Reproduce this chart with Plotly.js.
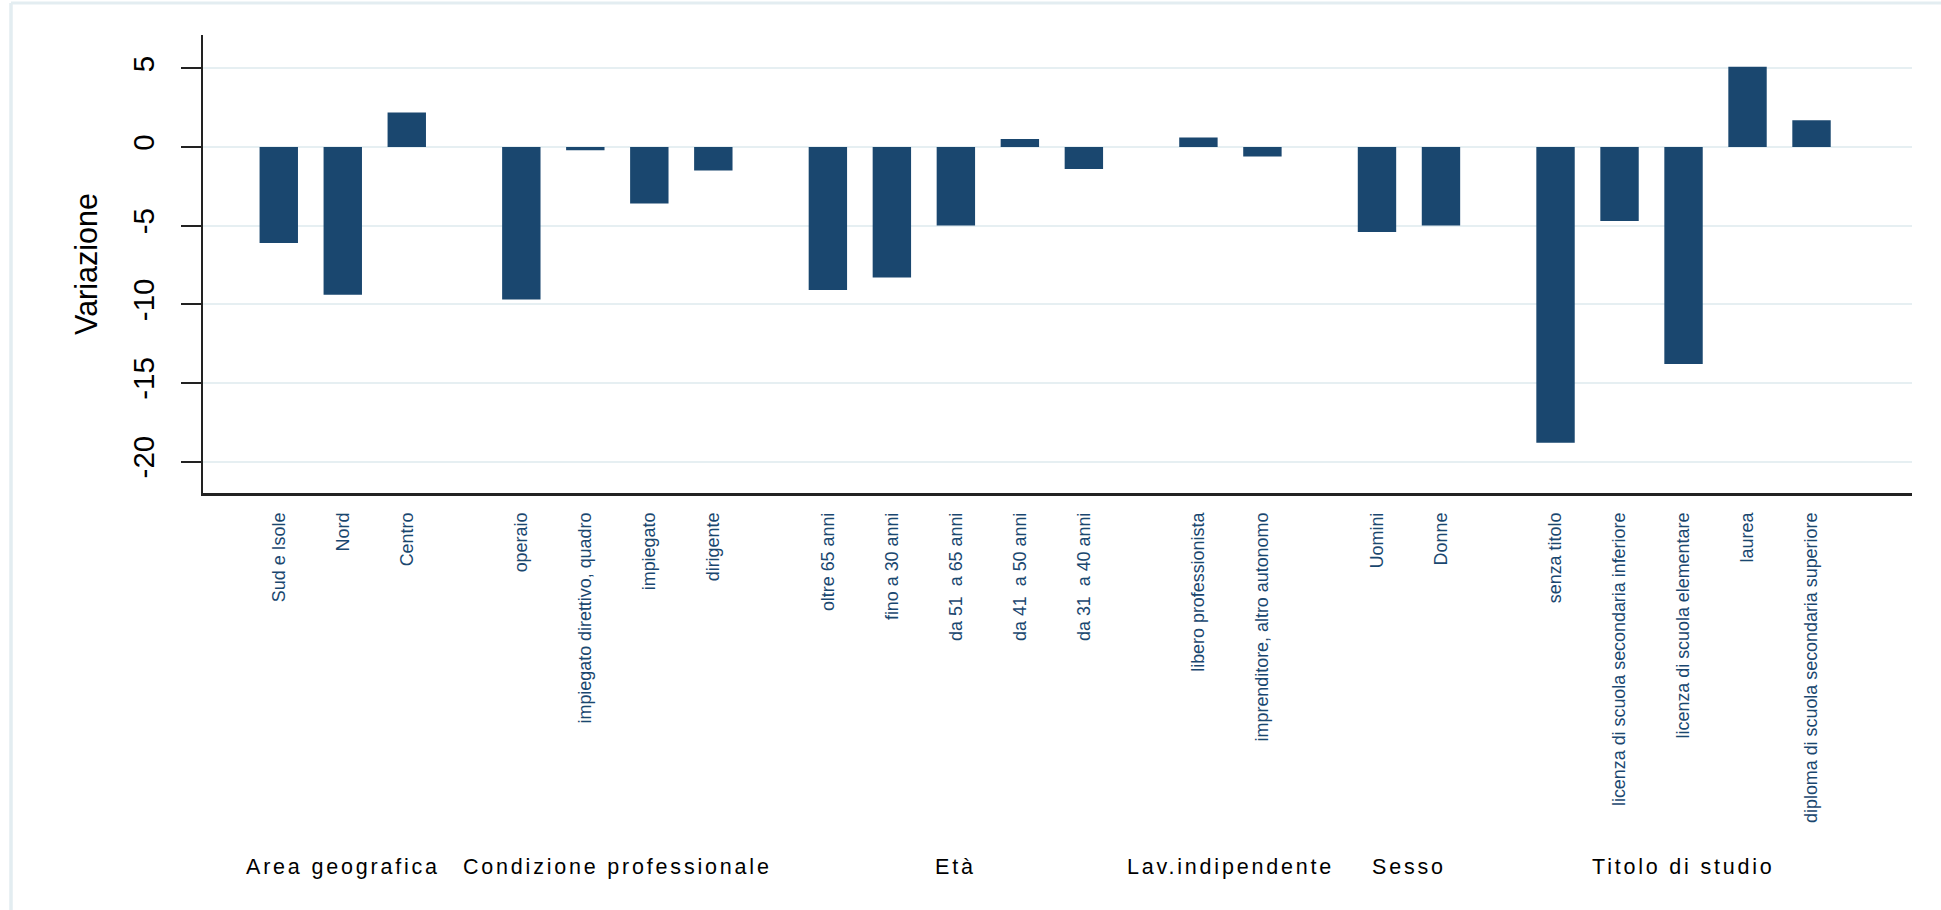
<!DOCTYPE html>
<html>
<head>
<meta charset="utf-8">
<script src="https://cdn.plot.ly/plotly-3.0.1.min.js"></script>
<style>
html, body { margin: 0; padding: 0; background: #ffffff; }
#chart { width: 1941px; height: 910px; }
</style>
</head>
<body>
<div id="chart"></div>
<script>
// ---- Data ----
const groupNames = ["Area geografica", "Condizione professionale", "Età", "Lav.indipendente", "Sesso", "Titolo di studio"];

const areaCats = ["Sud e Isole", "Nord", "Centro"];
const areaVals = [-6.1, -9.4, 2.2];

const condCats = ["operaio", "impiegato direttivo, quadro", "impiegato", "dirigente"];
const condVals = [-9.7, -0.2, -3.6, -1.5];

const etaCats = ["oltre 65 anni", "fino a 30 anni", "da 51  a 65 anni", "da 41  a 50 anni", "da 31  a 40 anni"];
const etaVals = [-9.1, -8.3, -5.0, 0.5, -1.4];

const lavCats = ["libero professionista", "imprenditore, altro autonomo"];
const lavVals = [0.6, -0.6];

const sessoCats = ["Uomini", "Donne"];
const sessoVals = [-5.4, -5.0];

const titoloCats = ["senza titolo", "licenza di scuola secondaria inferiore", "licenza di scuola elementare", "laurea", "diploma di scuola secondaria superiore"];
const titoloVals = [-18.8, -4.7, -13.8, 5.1, 1.7];

const yTickVals = [-20, -15, -10, -5, 0, 5];

// ---- Build positions (bars grouped with an extra gap between groups) ----
const groupCats = [areaCats, condCats, etaCats, lavCats, sessoCats, titoloCats];
const groupVals = [areaVals, condVals, etaVals, lavVals, sessoVals, titoloVals];
const GROUP_GAP = 0.79;

const xs = [], ys = [], labels = [], groupCenters = [];
let idx = 0;
groupCats.forEach(function (cats, g) {
  const first = idx + g * GROUP_GAP;
  cats.forEach(function (c, i) {
    xs.push(idx + g * GROUP_GAP);
    ys.push(groupVals[g][i]);
    labels.push(c.replace(/ /g, "\u00a0"));
    idx++;
  });
  const last = (idx - 1) + g * GROUP_GAP;
  groupCenters.push((first + last) / 2);
});

const SANS = "'Liberation Sans', Arial, Helvetica, sans-serif";
const NAVY = "#1a476f";

const trace = {
  type: "bar",
  x: xs,
  y: ys,
  width: 0.6,
  marker: { color: NAVY, line: { width: 0 } },
  hoverinfo: "x+y",
  showlegend: false
};

const annotations = groupNames.map(function (name, g) {
  return {
    x: groupCenters[g],
    xref: "x",
    y: -0.8166,
    yref: "paper",
    text: '<span style="letter-spacing:2.8px">' + name + '</span>',
    showarrow: false,
    xanchor: "center",
    yanchor: "middle",
    font: { family: SANS, size: 21.5, color: "#000000" }
  };
});

const layout = {
  width: 1941,
  height: 910,
  margin: { l: 203, r: 29, t: 35, b: 417, pad: 0 },
  paper_bgcolor: "#ffffff",
  plot_bgcolor: "#ffffff",
  bargap: 0.4,
  xaxis: {
    range: [-1.184, 25.52],
    tickmode: "array",
    tickvals: xs,
    ticktext: labels,
    tickangle: -90,
    tickfont: { family: SANS, size: 17.9, color: NAVY },
    ticks: "",
    ticklabelstandoff: 10,
    showgrid: false,
    zeroline: false,
    showline: true,
    linecolor: "#222222",
    linewidth: 2.5,
    fixedrange: true,
    automargin: false
  },
  yaxis: {
    range: [-22.0, 7.12],
    tickmode: "array",
    tickvals: yTickVals,
    ticktext: yTickVals.map(function (v) { return String(v); }),
    tickangle: -90,
    ticks: "outside",
    ticklen: 20,
    tickwidth: 2,
    tickcolor: "#222222",
    tickfont: { family: SANS, size: 29.5, color: "#000000" },
    ticklabelstandoff: 15,
    showline: true,
    linecolor: "#222222",
    linewidth: 2.5,
    showgrid: true,
    gridcolor: "#e6eff2",
    gridwidth: 2,
    zeroline: false,
    fixedrange: true,
    automargin: false,
    title: {
      text: "Variazione",
      font: { family: SANS, size: 30.5, color: "#000000" },
      standoff: 20
    }
  },
  annotations: annotations,
  shapes: [
    { type: "line", xref: "paper", yref: "paper", x0: -0.11235, x1: 1.03, y0: 1.06987, y1: 1.06987,
      line: { color: "#e3edf1", width: 3 } },
    { type: "line", xref: "paper", yref: "paper", x0: -0.11235, x1: -0.11235, y0: 1.06987, y1: -0.94,
      line: { color: "#e3edf1", width: 3.5 } }
  ]
};

Plotly.newPlot("chart", [trace], layout, { displayModeBar: false, staticPlot: true });
</script>
</body>
</html>
